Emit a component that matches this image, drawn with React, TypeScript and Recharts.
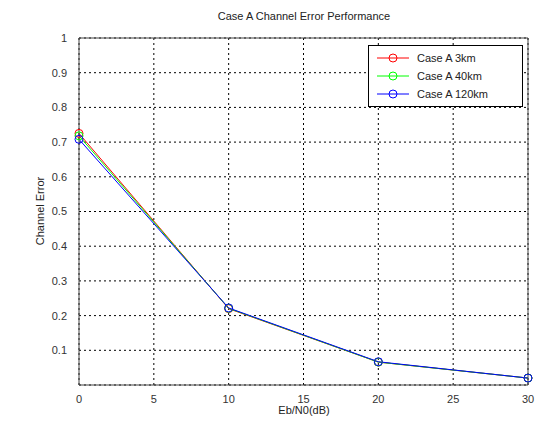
import React from "react";
import {
  LineChart,
  Line,
  XAxis,
  YAxis,
  CartesianGrid,
  ReferenceLine,
} from "recharts";

const ebn0 = [0, 10, 20, 30];
const case3km = [0.725, 0.22, 0.066, 0.02];
const case40km = [0.718, 0.221, 0.066, 0.02];
const case120km = [0.708, 0.222, 0.067, 0.02];
const xTicks = [0, 5, 10, 15, 20, 25, 30];
const yTicks = [0.1, 0.2, 0.3, 0.4, 0.5, 0.6, 0.7, 0.8, 0.9, 1];

const seriesNames = ["Case A 3km", "Case A 40km", "Case A 120km"];
const seriesColors = ["#ff0000", "#00ff00", "#0000ff"];
const seriesKeys = ["a", "b", "c"];

const data = ebn0.map((x, i) => ({
  x,
  a: case3km[i],
  b: case40km[i],
  c: case120km[i],
}));

const FONT = "'Liberation Sans', Arial, sans-serif";

const LegendBox = () => (
  <div
    style={{
      position: "absolute",
      left: 368,
      top: 45,
      width: 141,
      border: "1px solid #000",
      background: "#fff",
      padding: "3px 6px 3px 6px",
      fontFamily: FONT,
      fontSize: 11,
      color: "#222",
      lineHeight: "18px",
      zIndex: 2,
    }}
  >
    {seriesNames.map((n, i) => (
      <div key={n} style={{ display: "flex", alignItems: "center" }}>
        <svg width={36} height={12} style={{ marginRight: 6 }}>
          <line x1={2} y1={6} x2={34} y2={6} stroke={seriesColors[i]} strokeWidth={1} />
          <circle cx={18} cy={6} r={4} fill="none" stroke={seriesColors[i]} strokeWidth={1} />
        </svg>
        <span>{n}</span>
      </div>
    ))}
  </div>
);

export default function App() {
  return (
    <div style={{ position: "absolute", left: 0, top: 0, width: 535, height: 424, background: "#fff" }}>
      <LineChart
        width={535}
        height={424}
        data={data}
        margin={{ top: 38, right: 7, left: 0, bottom: 0 }}
      >
        <text
          x={304}
          y={20}
          textAnchor="middle"
          fontFamily={FONT}
          fontSize={11}
          fill="#222"
        >
          Case A Channel Error Performance
        </text>
        <text
          x={44}
          y={211}
          textAnchor="middle"
          fontFamily={FONT}
          fontSize={11}
          fill="#222"
          transform="rotate(-90 44 211)"
        >
          Channel Error
        </text>
        <text
          x={304}
          y={414}
          textAnchor="middle"
          fontFamily={FONT}
          fontSize={11}
          fill="#222"
        >
          Eb/N0(dB)
        </text>
        <CartesianGrid stroke="#000" strokeDasharray="2 3" strokeWidth={1} />
        <XAxis
          dataKey="x"
          type="number"
          domain={[0, 30]}
          ticks={xTicks}
          height={39}
          stroke="#444"
          tickLine={false}
          tickMargin={4}
          tick={{ fontFamily: FONT, fontSize: 11, fill: "#333" }}
        />
        <YAxis
          type="number"
          domain={[0, 1]}
          ticks={yTicks}
          width={79}
          stroke="#444"
          tickLine={false}
          tickMargin={6}
          tick={{ fontFamily: FONT, fontSize: 11, fill: "#333" }}
        />
        <ReferenceLine y={1} stroke="#444" strokeWidth={1} />
        <ReferenceLine x={30} stroke="#444" strokeWidth={1} />
        {seriesKeys.map((k, i) => (
          <Line
            key={k}
            dataKey={k}
            name={seriesNames[i]}
            stroke={seriesColors[i]}
            strokeWidth={1}
            dot={{ r: 4, fill: "none", stroke: seriesColors[i], strokeWidth: 1 }}
            activeDot={false}
            isAnimationActive={false}
          />
        ))}
      </LineChart>
      <LegendBox />
    </div>
  );
}
